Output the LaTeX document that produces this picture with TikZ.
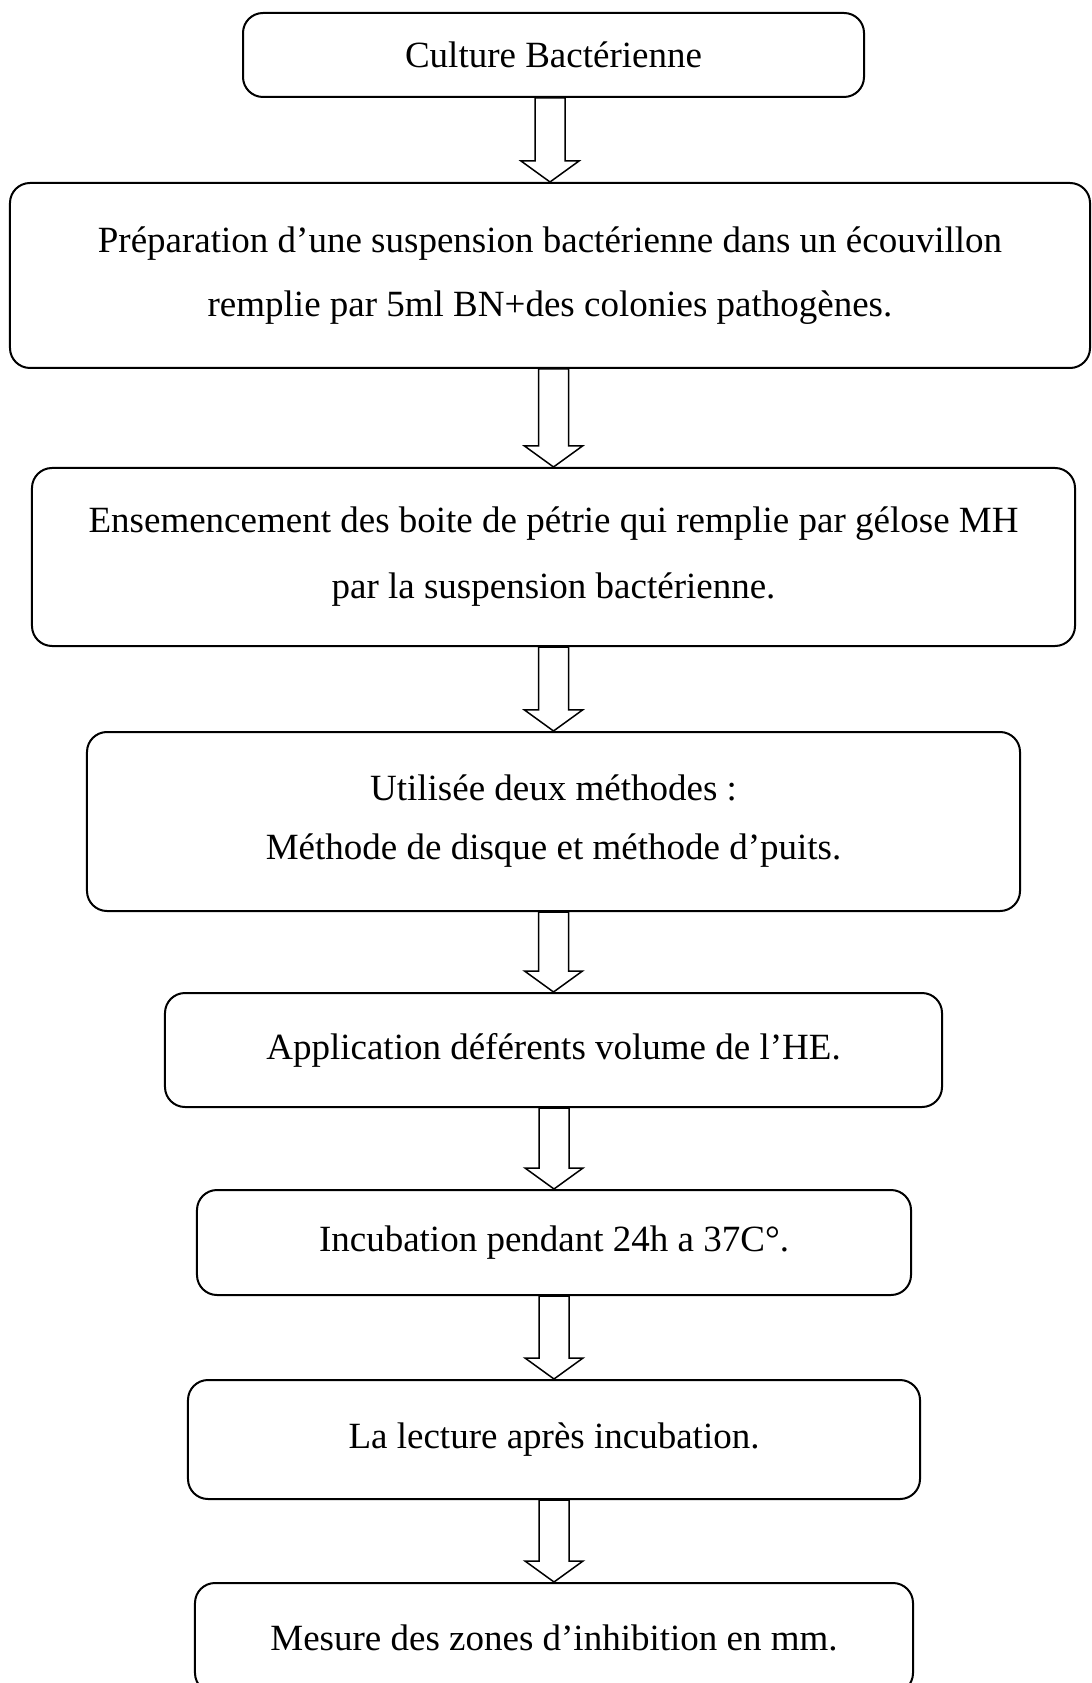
\documentclass[tikz,border=0pt]{standalone}
\usepackage{fontspec}
\setmainfont{Liberation Serif}
\usetikzlibrary{calc}
\tikzset{
  box/.style={draw, line width=0.8pt, rounded corners=8pt, fill=white, align=center,
    font=\fontsize{14.8}{25.6}\selectfont, inner sep=0pt},
  hollowarrow/.style={draw, line width=0.6pt, fill=white, line join=miter}
}
\newcommand{\flowarrow}[2]{%
  \path[hollowarrow] let \p1=(#1.south), \p2=(#2.north) in
    (\x2-6pt,\y1) -- (\x2-6pt,\y2+8.4pt) -- (\x2-11.6pt,\y2+8.4pt) -- (\x2,\y2)
    -- (\x2+11.6pt,\y2+8.4pt) -- (\x2+6pt,\y2+8.4pt) -- (\x2+6pt,\y1) -- cycle;}
\begin{document}
\begin{tikzpicture}[x=0.4pt, y=-0.4pt]
\useasboundingbox (0,0) rectangle (1091,1683);
\clip (0,0) rectangle (1091,1683);
\fill[white] (0,0) rectangle (1091,1683);
\node[box, minimum width=248.4pt, minimum height=33.6pt] (b1) at (553.5,55) {Culture Bactérienne};
\node[box, minimum width=432pt, minimum height=74pt] (b2) at (550,275.5)
  {Préparation d’une suspension bactérienne dans un écouvillon\\remplie par 5ml BN+des colonies pathogènes.};
\node[box, minimum width=417.2pt, minimum height=71.2pt, font=\fontsize{14.8}{26.4}\selectfont] (b3) at (553.5,557)
  {Ensemencement des boite de pétrie qui remplie par gélose MH\\par la suspension bactérienne.};
\node[box, minimum width=373.2pt, minimum height=71.6pt, font=\fontsize{14.8}{23.6}\selectfont] (b4) at (553.5,821.5)
  {Utilisée deux méthodes :\\Méthode de disque et méthode d’puits.};
\node[box, minimum width=310.8pt, minimum height=45.6pt] (b5) at (553.5,1050) {Application déférents volume de l’HE.};
\node[box, minimum width=285.6pt, minimum height=42pt] (b6) at (554,1242.5) {Incubation pendant 24h a 37C°.};
\node[box, minimum width=292.8pt, minimum height=47.6pt] (b7) at (554,1439.5) {\raisebox{2.4pt}{La lecture après incubation.}};
\node[box, minimum width=287.2pt, minimum height=44pt] (b8) at (554,1638) {Mesure des zones d’inhibition en mm.};
\flowarrow{b1}{b2}
\flowarrow{b2}{b3}
\flowarrow{b3}{b4}
\flowarrow{b4}{b5}
\flowarrow{b5}{b6}
\flowarrow{b6}{b7}
\flowarrow{b7}{b8}
\end{tikzpicture}
\end{document}
